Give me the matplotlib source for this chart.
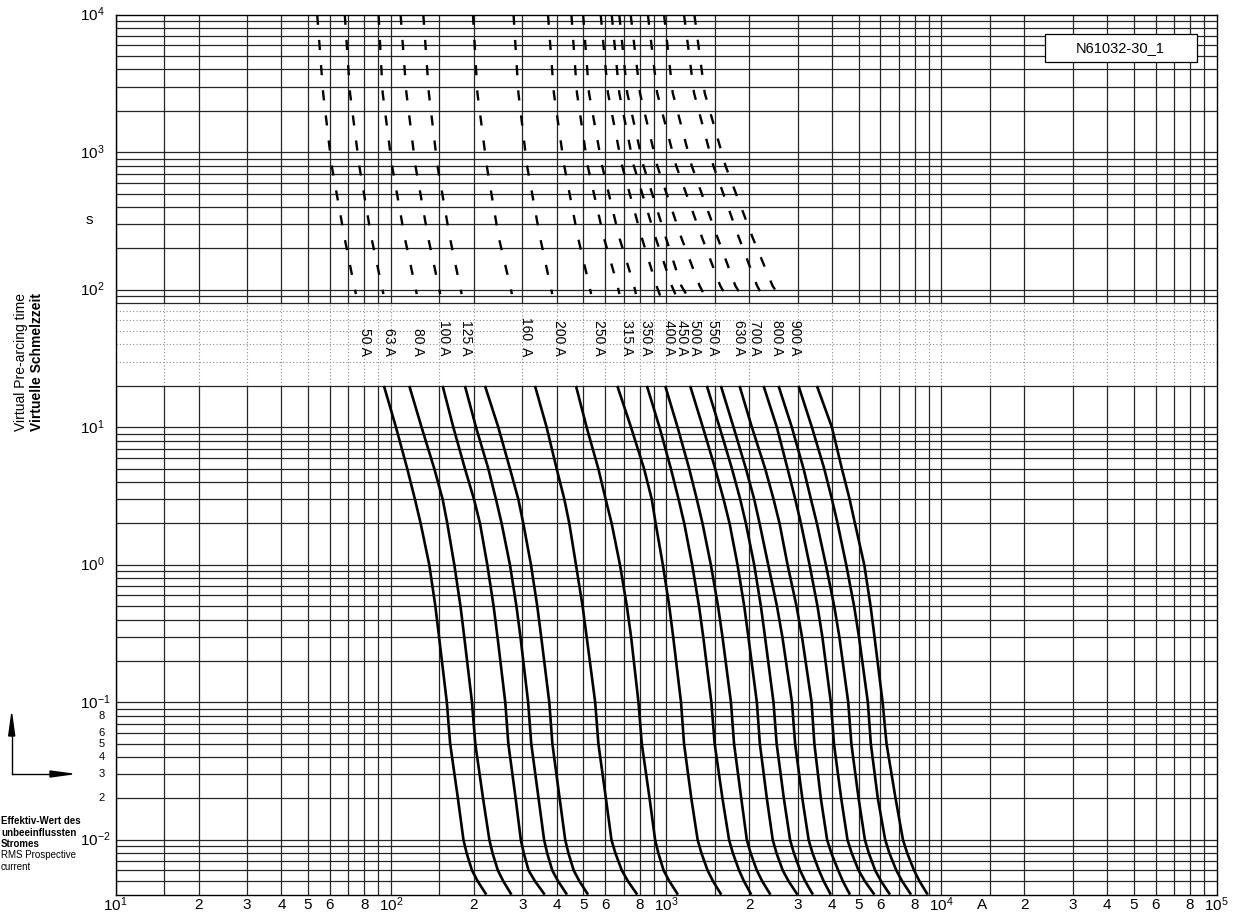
import matplotlib.pyplot as plt
from matplotlib.patches import Rectangle, Polygon
from matplotlib.lines import Line2D
from matplotlib.ticker import NullLocator

plt.rcParams['font.family'] = ['Liberation Sans', 'DejaVu Sans']
plt.rcParams['mathtext.fontset'] = 'custom'
plt.rcParams['mathtext.rm'] = 'Liberation Sans'
plt.rcParams['mathtext.it'] = 'Liberation Sans:italic'

W, H = 1241, 914

# fuse ratings (label text) and label x position (A)
ratings = ['50 A', '63 A', '80 A', '100 A', '125 A', '160  A', '200 A', '250 A', '315 A',
           '350 A', '400 A', '450 A', '500 A', '550 A', '630 A', '700 A', '800 A', '900 A']
label_x = [80.8, 98.3, 125.6, 155.8, 187.9, 310.0, 408.1, 570.0, 721.6,
           845.9, 1020, 1144, 1277, 1483, 1840, 2108, 2527, 2936]

# solid part: time levels (s) and current (A) per fuse
t_solid = [20, 10, 5, 3, 2, 1, 0.5, 0.3, 0.1, 0.05, 0.02, 0.01, 0.008, 0.006, 0.005, 0.004]
i_solid = [
    [94.3, 104.3, 114.6, 122.2, 128.2, 137.8, 145.0, 149.5, 159.6, 164.1, 175.1, 183.4, 188.4, 197.0, 206.7, 222],
    [116.6, 129.2, 143.7, 154.1, 160.2, 169.9, 178.9, 184.6, 197.0, 202.5, 216.1, 227.8, 234.0, 244.6, 256.0, 274],
    [154.1, 168.5, 185.7, 200.3, 210.6, 223.9, 236.0, 243.8, 260.2, 267.0, 283.8, 296.4, 303.8, 316.2, 333.8, 362],
    [185.7, 203.7, 225.8, 240.7, 252.4, 270.6, 285.7, 295.4, 315.1, 323.4, 343.8, 360.1, 369.5, 385.5, 405.0, 436],
    [219.6, 245.5, 270.6, 290.2, 302.6, 322.6, 340.1, 351.4, 376.1, 385.9, 410.1, 429.6, 441.4, 461.3, 484.0, 520],
    [333.7, 367.8, 399.9, 426.5, 444.6, 470.1, 496.9, 514.0, 552.1, 567.1, 603.9, 632.6, 653.8, 689.8, 726.4, 785],
    [470.1, 514.0, 566.7, 602.6, 633.6, 679.3, 719.6, 745.4, 793.0, 815.4, 870.2, 911.6, 936.5, 978.6, 1027, 1103],
    [664.3, 745.1, 830.9, 886.1, 915.6, 972.5, 1026, 1060, 1132, 1161, 1234, 1301, 1343, 1414, 1480, 1585],
    [850.9, 945.7, 1040, 1109, 1163, 1243, 1316, 1363, 1459, 1500, 1601, 1692, 1747, 1840, 1917, 2037],
    [991.7, 1100, 1212, 1292, 1355, 1453, 1543, 1601, 1719, 1764, 1874, 1963, 2027, 2135, 2234, 2391],
    [1222, 1359, 1507, 1616, 1699, 1816, 1921, 1988, 2135, 2189, 2321, 2438, 2517, 2651, 2785, 2997],
    [1405, 1563, 1733, 1857, 1948, 2088, 2208, 2285, 2454, 2519, 2676, 2819, 2911, 3066, 3200, 3412],
    [1580, 1757, 1948, 2088, 2184, 2348, 2526, 2642, 2864, 2940, 3123, 3292, 3402, 3590, 3735, 3961],
    [1847, 2048, 2289, 2455, 2581, 2760, 2975, 3114, 3375, 3454, 3646, 3843, 3981, 4217, 4385, 4651],
    [2258, 2524, 2760, 2943, 3087, 3318, 3545, 3692, 3964, 4069, 4323, 4557, 4721, 5000, 5272, 5708],
    [2559, 2861, 3155, 3356, 3528, 3803, 4078, 4256, 4585, 4706, 5000, 5271, 5447, 5746, 6037, 6501],
    [3026, 3384, 3751, 4000, 4194, 4509, 4816, 5015, 5403, 5539, 5873, 6247, 6471, 6855, 7202, 7753],
    [3528, 4000, 4348, 4638, 4850, 5243, 5528, 5711, 6114, 6316, 6813, 7248, 7510, 7954, 8325, 8911],
]

# dashed part: time levels (s) and current (A), plus own end point per fuse
t_dash = [10000, 2700, 800, 240, 107]
i_dash = [
    [53.97, 56.7, 60.9, 67.8, 73.5],
    [67.96, 71.0, 76.7, 84.9, 92.5],
    [90.15, 93.3, 100.9, 112.2, 122.3],
    [108.4, 113.8, 122.7, 136.5, 148.8],
    [131.1, 137.3, 147.5, 163.7, 178.0],
    [198.6, 206.1, 222.8, 246.4, 271.0],
    [278.9, 290.4, 312.1, 348.2, 379.6],
    [372.0, 390.7, 426.0, 478.1, 525.7],
    [452.5, 474.0, 518.2, 593.4, 665.9],
    [499.0, 524.2, 584.8, 675.3, 764.5],
    [578.1, 614.2, 691.0, 814.6, 922],
    [633.9, 675.3, 762.2, 914.2, 1047],
    [675.3, 721.8, 826.4, 996.5, 1134],
    [742.8, 802.9, 927.3, 1134, 1322],
    [857.9, 927.3, 1086, 1349, 1571],
    [982.2, 1056, 1237, 1536, 1783],
    [1161, 1262, 1483, 1836, 2138],
    [1266, 1380, 1641, 2060, 2434],
]
t_dash_end = [93] * 10 + [82] * 8
i_dash_end = [74.6, 93.9, 124.1, 151.0, 180.7, 275.1, 385.3, 533.6, 675.9, 776.0,
              968, 1109, 1226, 1416, 1698, 1933, 2298, 2654]

# axis tick labels
x_tick_vals = [10, 20, 30, 40, 50, 60, 80,
               100, 200, 300, 400, 500, 600, 800,
               1000, 2000, 3000, 4000, 5000, 6000, 8000,
               10000, 14000, 20000, 30000, 40000, 50000, 60000, 80000, 100000]
x_tick_text = [r'$\mathregular{10^{1}}$', '2', '3', '4', '5', '6', '8',
               r'$\mathregular{10^{2}}$', '2', '3', '4', '5', '6', '8',
               r'$\mathregular{10^{3}}$', '2', '3', '4', '5', '6', '8',
               r'$\mathregular{10^{4}}$', 'A', '2', '3', '4', '5', '6', '8',
               r'$\mathregular{10^{5}}$']
y_major_vals = [1e-2, 1e-1, 1e0, 1e1, 1e2, 1e3, 1e4]
y_major_text = [r'$\mathregular{10^{-2}}$', r'$\mathregular{10^{-1}}$', r'$\mathregular{10^{0}}$',
                r'$\mathregular{10^{1}}$', r'$\mathregular{10^{2}}$', r'$\mathregular{10^{3}}$',
                r'$\mathregular{10^{4}}$']
y_minor_vals = [0.02, 0.03, 0.04, 0.05, 0.06, 0.08]
y_minor_text = ['2', '3', '4', '5', '6', '8']

fig = plt.figure(figsize=(W / 100, H / 100), dpi=100)
ax = fig.add_axes([115.7 / W, 1 - 894.6 / H, 1101.0 / W, 879.9 / H])
ax.set_xscale('log')
ax.set_yscale('log')
xmin, xmax, ymin, ymax = 10, 1e5, 4e-3, 1e4
ax.set_xlim(xmin, xmax)
ax.set_ylim(ymin, ymax)
for axis in (ax.xaxis, ax.yaxis):
    axis.set_major_locator(NullLocator())
    axis.set_minor_locator(NullLocator())
for s in ax.spines.values():
    s.set_linewidth(1.0)
    s.set_color('black')

# grid, band 20..80 s dotted
band_lo, band_hi = 20, 80
grid_col = '#262626'
dot_col = '#8c8c8c'
for d in range(1, 5):
    for m in [1, 1.5, 2, 3, 4, 5, 6, 7, 8, 9]:
        x = m * 10 ** d
        ax.plot([x, x], [ymin, band_lo], color=grid_col, lw=0.9, zorder=1)
        ax.plot([x, x], [band_hi, ymax], color=grid_col, lw=0.9, zorder=1)
        ax.plot([x, x], [band_lo, band_hi], color=dot_col, lw=0.8, ls=(0, (1, 2)), zorder=1)
for d in range(-3, 4):
    for m in range(1, 10):
        y = m * 10.0 ** d
        if y <= ymin or y >= ymax:
            continue
        if band_lo < y < band_hi:
            ax.plot([xmin, xmax], [y, y], color=dot_col, lw=0.8, ls=(0, (1, 2)), zorder=1)
        else:
            ax.plot([xmin, xmax], [y, y], color=grid_col, lw=0.9, zorder=1)

# curves
for k in range(len(ratings)):
    ax.plot(i_solid[k], t_solid, color='black', lw=1.9, zorder=3,
            solid_capstyle='butt', solid_joinstyle='round')
    ax.plot(i_dash[k] + [i_dash_end[k]], t_dash + [t_dash_end[k]], color='black', lw=1.7,
            dashes=(4.3, 6.4), zorder=3)
    ax.text(label_x[k], 33, ratings[k], rotation=-90, ha='center', va='bottom',
            fontsize=10, zorder=4)

# tick labels
xt = ax.get_xaxis_transform()
for v, s in zip(x_tick_vals, x_tick_text):
    ax.text(v, -0.0115, s, transform=xt, ha='center', va='center', fontsize=11, clip_on=False)
yt = ax.get_yaxis_transform()
for v, s in zip(y_major_vals, y_major_text):
    ax.text(-0.0325, v, s, transform=yt, ha='left', va='center', fontsize=11, clip_on=False)
for v, s in zip(y_minor_vals, y_minor_text):
    ax.text(-0.0125, v, s, transform=yt, ha='center', va='center', fontsize=8, clip_on=False)
ax.text(-0.024, 320, 's', transform=yt, ha='center', va='center', fontsize=11, clip_on=False)


def fp(x, y):
    return (x / W, 1 - y / H)


# axis titles
fig.text(*fp(37, 362), 'Virtuelle Schmelzzeit', rotation=90, ha='center', va='center',
         fontsize=10, fontweight='bold')
fig.text(*fp(21, 362), 'Virtual Pre-arcing time', rotation=90, ha='center', va='center',
         fontsize=10)
fig.text(*fp(1, 816), 'Effektiv-Wert des\nunbeeinflussten\nStromes', ha='left', va='top',
         fontsize=7, fontweight='bold', linespacing=1.2)
fig.text(*fp(1, 850), 'RMS Prospective\ncurrent', ha='left', va='top', fontsize=7,
         linespacing=1.2)

# axis direction arrows
fig.add_artist(Line2D([fp(11.7, 774)[0], fp(11.7, 730)[0]], [fp(11.7, 774)[1], fp(11.7, 730)[1]],
                      color='black', lw=1.0))
fig.add_artist(Line2D([fp(11.7, 774)[0], fp(55, 774)[0]], [fp(11.7, 774)[1], fp(55, 774)[1]],
                      color='black', lw=1.0))
fig.add_artist(Polygon([fp(11.7, 714), fp(8.7, 736), fp(14.7, 736)], closed=True,
                       transform=fig.transFigure, color='black'))
fig.add_artist(Polygon([fp(72, 774), fp(50, 771), fp(50, 777)], closed=True,
                       transform=fig.transFigure, color='black'))

# drawing number box
x0, y0 = fp(1044.5, 62)
x1, y1 = fp(1196.5, 34)
fig.add_artist(Rectangle((x0, y0), x1 - x0, y1 - y0, transform=fig.transFigure,
                         facecolor='white', edgecolor='black', lw=0.9, zorder=5))
fig.text(*fp(1120.5, 48), 'N61032-30_1', ha='center', va='center', fontsize=10.5, zorder=6)

fig.savefig('out.png', dpi=100)
